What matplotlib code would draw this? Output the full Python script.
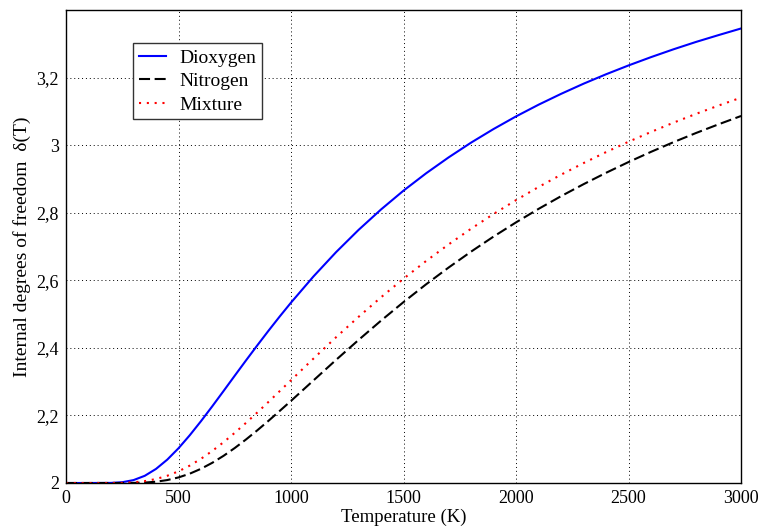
import matplotlib
matplotlib.use("Agg")
import matplotlib.pyplot as plt
from matplotlib.ticker import FuncFormatter

temperature = [0, 100, 200, 250, 300, 350, 400, 450, 500, 550, 600, 650, 700, 750,
               800, 850, 900, 950, 1000,
               1100, 1200, 1300, 1400, 1500, 1600, 1700, 1800, 1900, 2000,
               2100, 2200, 2300, 2400, 2500, 2600, 2700, 2800, 2900, 3000]

dioxygen = [2.0, 2.0, 2.0003, 2.0023, 2.0086, 2.0213, 2.0417, 2.0692, 2.1029, 2.1414,
            2.1832, 2.2271, 2.2722, 2.3178, 2.3630, 2.4074, 2.4509, 2.4932, 2.5341,
            2.6117, 2.6833, 2.7492, 2.8098, 2.8656, 2.9167, 2.9638, 3.0076, 3.0479, 3.0853,
            3.1199, 3.1520, 3.1821, 3.2100, 3.2362, 3.2608, 3.2840, 3.3058, 3.3260, 3.3456]

nitrogen = [2.0, 2.0, 2.0, 2.0, 2.0003, 2.0013, 2.0038, 2.0087, 2.0165, 2.0276,
            2.0421, 2.0598, 2.0804, 2.1036, 2.1289, 2.1559, 2.1842, 2.2135, 2.2432,
            2.3038, 2.3644, 2.4234, 2.4807, 2.5356, 2.5881, 2.6377, 2.6849, 2.7295, 2.7716,
            2.8115, 2.8491, 2.8846, 2.9183, 2.9502, 2.9804, 3.0091, 3.0362, 3.0619, 3.0865]

mixture = [2.0, 2.0, 2.0001, 2.0005, 2.0020, 2.0055, 2.0118, 2.0214, 2.0346, 2.0515,
           2.0717, 2.0949, 2.1207, 2.1486, 2.1781, 2.2087, 2.2402, 2.2722, 2.3043,
           2.3685, 2.4314, 2.4918, 2.5498, 2.6049, 2.6571, 2.7062, 2.7527, 2.7964, 2.8375,
           2.8763, 2.9127, 2.9471, 2.9796, 3.0103, 3.0393, 3.0668, 3.0928, 3.1174, 3.1409]

x_ticks = [0, 500, 1000, 1500, 2000, 2500, 3000]
y_ticks = [2.0, 2.2, 2.4, 2.6, 2.8, 3.0, 3.2]

plt.rcParams['font.family'] = ['Liberation Serif', 'DejaVu Serif']

fig = plt.figure(figsize=(7.64, 5.31), dpi=100)
ax = fig.add_axes([0.0864, 0.0904, 0.8836, 0.8906])

ax.plot(temperature, dioxygen, color='#0000ff', lw=1.5, ls='-', label='Dioxygen')
ax.plot(temperature, nitrogen, color='black', lw=1.5, ls=(0, (5.3, 2.2)), label='Nitrogen')
ax.plot(temperature, mixture, color='#ff0000', lw=1.5, ls=(0, (1, 2.75)), label='Mixture')

ax.set_xlim(0, 3000)
ax.set_ylim(2.0, 3.4)
ax.set_xticks(x_ticks)
ax.set_yticks(y_ticks)

def comma_fmt(v, pos):
    s = ('%.1f' % v).rstrip('0').rstrip('.')
    return s.replace('.', ',')

ax.yaxis.set_major_formatter(FuncFormatter(comma_fmt))
ax.grid(True, color='black', ls=(0, (1, 3)), lw=0.7)
ax.tick_params(axis='both', labelsize=13, direction='in', length=0, width=0.8, pad=5)
for sp in ax.spines.values():
    sp.set_linewidth(1.0)

ax.set_xlabel('Temperature (K)', fontsize=13.5, labelpad=1)
ax.set_ylabel('Internal degrees of freedom  δ(T)', fontsize=14, labelpad=4)

leg = ax.legend(loc='upper left', bbox_to_anchor=(0.0993, 0.930), borderaxespad=0,
                fontsize=14, frameon=True, fancybox=False, edgecolor='#333333',
                framealpha=1, handlelength=1.4, borderpad=0.3, labelspacing=0.3,
                handletextpad=0.67)
leg.get_frame().set_linewidth(1.0)

fig.savefig('out.png', dpi=100)
